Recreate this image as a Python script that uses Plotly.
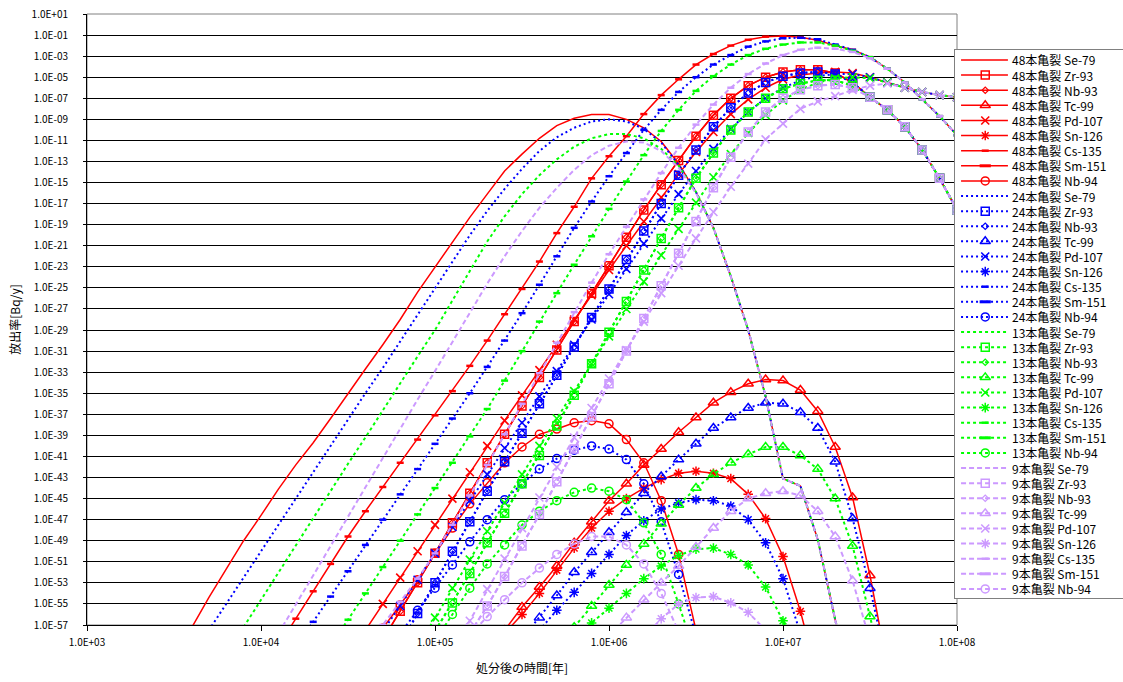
import plotly.graph_objects as go

# ---------------- data (log10 of release rate [Bq/y]) on a 0.1-decade time grid ----------------
LOG_YEARS = [3.6, 3.7, 3.8, 3.9, 4.0, 4.1, 4.2, 4.3, 4.4, 4.5, 4.6, 4.7, 4.8, 4.9,
             5.0, 5.1, 5.2, 5.3, 5.4, 5.5, 5.6, 5.7, 5.8, 5.9, 6.0, 6.1, 6.2, 6.3,
             6.4, 6.5, 6.6, 6.7, 6.8, 6.9, 7.0, 7.1, 7.2, 7.3, 7.4, 7.5, 7.6, 7.7,
             7.8, 7.9, 8.0]

CASES = [48, 24, 13, 9]
CASE_LABELS = {48: "48本亀裂", 24: "24本亀裂", 13: "13本亀裂", 9: "9本亀裂"}
NUCLIDES = ["Se-79", "Zr-93", "Nb-93", "Tc-99", "Pd-107", "Sn-126", "Cs-135", "Sm-151", "Nb-94"]

# each entry: (first log10 year, [log10 release rate, ...])
se79 = {
    48: (3.6, [-57.3, -54.4, -51.7, -49.0, -46.6, -44.1, -41.8, -39.7, -37.4, -35.0, -32.7, -30.4,
               -28.0, -25.4, -23.0, -20.7, -18.3, -16.1, -13.9, -12.3, -10.8, -9.6, -8.9, -8.55,
               -8.55, -9.0, -9.8, -11.1, -13.2, -15.9, -19.3, -23.9, -29.0, -35.3, -43.1, -43.8,
               -48.9, -56.5, -64.0]),
    24: (3.7, [-57.5, -55.0, -52.4, -49.9, -47.4, -44.9, -42.4, -40.0, -37.5, -35.0, -32.6, -30.1,
               -27.5, -25.1, -22.5, -20.0, -17.7, -15.6, -13.7, -12.0, -10.7, -9.8, -9.2, -9.0,
               -9.2, -9.9, -11.2, -13.3, -15.9, -19.3, -23.9, -29.0, -35.3, -43.1, -43.8, -48.9,
               -56.5, -64.0]),
    13: (3.9, [-57.2, -54.6, -52.0, -49.4, -46.9, -44.3, -41.7, -39.2, -36.6, -34.1, -31.5, -29.0,
               -26.2, -23.3, -20.6, -18.2, -16.1, -14.3, -12.8, -11.6, -10.8, -10.4, -10.4, -10.8,
               -11.8, -13.4, -15.9, -19.3, -23.9, -29.0, -35.3, -43.1, -43.8, -48.9, -56.5, -64.0]),
    9: (4.1, [-57.8, -55.1, -52.3, -49.5, -46.7, -43.9, -41.1, -38.4, -35.6, -32.9, -30.1, -27.3,
              -24.6, -22.0, -19.6, -17.4, -15.5, -13.8, -12.4, -11.5, -11.1, -11.2, -12.0, -13.6,
              -16.0, -19.3, -23.9, -29.0, -35.3, -43.1, -43.8, -48.9, -56.5, -64.0]),
}
zr93 = {
    48: (4.7, [-58.4, -55.7, -53.0, -50.2, -47.3, -44.5, -41.6, -38.9, -36.2, -33.5, -30.9, -28.2,
               -25.5, -22.9, -20.2, -17.6, -15.2, -12.9, -10.6, -8.6, -7.0, -5.8, -5.0, -4.5,
               -4.3, -4.3, -4.6, -5.5, -6.9, -8.1, -9.7, -11.9, -14.6, -17.6]),
    24: (4.8, [-58.8, -55.9, -53.0, -50.0, -47.2, -44.3, -41.5, -38.8, -36.0, -33.3, -30.6, -27.8,
               -25.1, -22.3, -19.6, -17.0, -14.3, -11.9, -9.7, -7.9, -6.5, -5.5, -4.9, -4.6,
               -4.5, -4.7, -5.5, -6.9, -8.1, -9.7, -11.9, -14.6, -17.6]),
    13: (5.0, [-57.6, -54.9, -52.1, -49.2, -46.4, -43.6, -40.9, -38.1, -35.2, -32.2, -29.2, -26.3,
               -23.3, -20.3, -17.4, -14.6, -12.2, -10.0, -8.3, -7.0, -6.1, -5.6, -5.3, -5.3,
               -5.8, -6.9, -8.1, -9.7, -11.9, -14.6, -17.6]),
    9: (5.2, [-57.8, -55.2, -52.4, -49.5, -46.5, -43.4, -40.3, -37.2, -34.1, -31.0, -27.9, -24.8,
              -21.7, -18.7, -15.5, -12.6, -10.2, -8.3, -7.0, -6.2, -5.8, -5.7, -6.0, -6.9,
              -8.1, -9.7, -11.9, -14.6, -17.6]),
}
nb93 = {
    48: (4.7, [-58.4, -55.7, -53.0, -50.2, -47.3, -44.5, -41.6, -38.9, -36.2, -33.5, -30.9, -28.2,
               -25.5, -22.9, -20.2, -17.6, -15.2, -12.9, -10.6, -8.6, -7.0, -5.8, -5.0, -4.5,
               -4.3, -4.3, -4.6, -5.5, -6.9, -8.1, -9.7, -11.9, -14.6, -17.6]),
    24: (4.8, [-58.8, -55.9, -53.0, -50.0, -47.2, -44.3, -41.5, -38.8, -36.0, -33.3, -30.6, -27.8,
               -25.1, -22.3, -19.6, -17.0, -14.3, -11.9, -9.7, -7.9, -6.5, -5.5, -4.9, -4.6,
               -4.5, -4.7, -5.5, -6.9, -8.1, -9.7, -11.9, -14.6, -17.6]),
    13: (5.0, [-57.6, -54.9, -52.1, -49.2, -46.4, -43.6, -40.9, -38.1, -35.2, -32.2, -29.2, -26.3,
               -23.3, -20.3, -17.4, -14.6, -12.2, -10.0, -8.3, -7.0, -6.1, -5.6, -5.3, -5.3,
               -5.8, -6.9, -8.1, -9.7, -11.9, -14.6, -17.6]),
    9: (5.2, [-57.8, -55.2, -52.4, -49.5, -46.5, -43.4, -40.3, -37.2, -34.1, -31.0, -27.9, -24.8,
              -21.7, -18.7, -15.5, -12.6, -10.2, -8.3, -7.0, -6.2, -5.8, -5.7, -6.0, -6.9,
              -8.1, -9.7, -11.9, -14.6, -17.6]),
}
tc99 = {
    48: (5.4, [-57.5, -55.3, -53.4, -51.4, -49.2, -47.2, -45.2, -43.6, -41.8, -40.3, -38.7, -37.3,
               -35.9, -34.9, -34.1, -33.7, -33.8, -34.7, -36.7, -40.1, -44.9, -52.3, -61.0]),
    24: (5.5, [-58.3, -56.3, -54.2, -52.0, -50.1, -48.2, -46.3, -44.5, -42.9, -41.3, -39.8, -38.3,
               -37.3, -36.4, -35.9, -36.0, -36.8, -38.3, -41.5, -46.9, -53.5, -61.0]),
    13: (5.8, [-57.2, -55.2, -53.2, -51.3, -49.3, -47.4, -45.6, -44.0, -42.7, -41.6, -40.8, -40.1,
               -40.1, -40.9, -42.2, -45.0, -49.5, -56.2, -63.0]),
    9: (6.0, [-58.0, -56.3, -54.6, -53.0, -51.4, -49.6, -47.8, -46.2, -45.0, -44.5, -44.3, -44.7,
              -46.2, -48.6, -52.8, -58.5]),
}
pd107 = {
    48: (4.6, [-57.5, -55.0, -52.5, -50.0, -47.5, -45.0, -42.5, -40.0, -37.6, -35.2, -32.8, -30.4,
               -28.0, -25.7, -23.3, -21.0, -18.7, -16.4, -14.2, -12.1, -10.2, -8.5, -7.1, -6.0,
               -5.2, -4.8, -4.6, -4.5, -4.6, -5.0, -5.5, -6.0, -6.4, -6.7, -6.9]),
    24: (4.7, [-57.6, -55.2, -52.7, -50.2, -47.7, -45.2, -42.7, -40.2, -37.8, -35.3, -32.9, -30.4,
               -28.0, -25.6, -23.2, -20.8, -18.4, -16.1, -13.9, -11.8, -9.9, -8.3, -7.0, -6.0,
               -5.3, -4.9, -4.7, -4.7, -5.0, -5.5, -6.0, -6.4, -6.7, -6.9]),
    13: (4.9, [-59.1, -56.3, -53.5, -50.8, -48.1, -45.4, -42.7, -40.0, -37.4, -34.8, -32.2, -29.6,
               -27.0, -24.4, -21.9, -19.4, -16.9, -14.5, -12.3, -10.3, -8.6, -7.2, -6.2, -5.5,
               -5.1, -5.0, -5.1, -5.5, -6.0, -6.4, -6.7, -6.9]),
    9: (5.1, [-59.5, -56.6, -53.6, -50.7, -47.8, -44.9, -42.0, -39.2, -36.4, -33.6, -30.9, -28.2,
              -25.5, -22.9, -20.3, -17.8, -15.4, -13.2, -10.9, -9.4, -8.0, -7.3, -6.8, -6.2,
              -5.8, -5.6, -6.0, -6.4, -6.7, -6.9]),
}
sn126 = {
    48: (5.4, [-57.8, -56.0, -54.0, -51.8, -49.7, -47.8, -46.2, -45.0, -44.0, -43.2, -42.6, -42.4,
               -42.6, -43.1, -44.6, -46.9, -50.5, -55.7, -62.0]),
    24: (5.6, [-57.5, -55.6, -53.9, -52.1, -50.3, -48.5, -47.1, -46.0, -45.4, -45.1, -45.2, -45.7,
               -47.0, -49.2, -52.6, -57.8]),
    13: (5.8, [-58.2, -56.8, -55.4, -54.0, -52.6, -51.4, -50.4, -49.8, -49.7, -50.3, -51.3, -53.4,
               -56.6, -61.0]),
    9: (6.2, [-58.2, -56.4, -55.0, -54.4, -54.3, -54.9, -55.8, -57.5, -60.0]),
}
cs135 = {
    48: (4.1, [-59.0, -56.4, -53.8, -51.2, -48.6, -46.2, -43.9, -41.6, -39.4, -37.1, -34.8, -32.4,
               -30.0, -27.5, -25.1, -22.5, -19.8, -17.3, -14.6, -12.5, -10.6, -8.5, -6.7, -5.2,
               -3.8, -2.8, -2.0, -1.45, -1.15, -1.1, -1.2, -1.5, -2.0, -2.4, -3.1, -4.2,
               -5.5, -7.1, -8.7, -10.5]),
    24: (4.2, [-59.1, -56.7, -54.3, -51.9, -49.4, -47.0, -44.6, -42.2, -39.8, -37.4, -35.0, -32.5,
               -30.0, -27.4, -24.7, -22.0, -19.3, -16.8, -14.4, -12.2, -10.0, -8.1, -6.4, -5.0,
               -3.8, -2.9, -2.1, -1.6, -1.3, -1.25, -1.4, -1.9, -2.4, -3.1, -4.2, -5.5,
               -7.1, -8.7, -10.5]),
    13: (4.4, [-59.0, -56.5, -54.0, -51.5, -49.0, -46.5, -44.0, -41.6, -39.1, -36.5, -33.8, -31.0,
               -28.2, -25.5, -22.8, -20.1, -17.5, -14.9, -12.4, -10.1, -8.1, -6.3, -4.9, -3.8,
               -2.9, -2.3, -1.9, -1.7, -1.7, -2.0, -2.5, -3.1, -4.2, -5.5, -7.1, -8.7, -10.5]),
    9: (4.6, [-59.4, -57.0, -54.8, -52.6, -50.2, -47.5, -44.7, -41.8, -38.9, -36.0, -33.1, -30.2,
              -27.3, -24.5, -21.8, -19.2, -16.6, -14.1, -11.7, -9.5, -7.6, -6.0, -4.7, -3.7,
              -2.9, -2.4, -2.2, -2.3, -2.6, -3.2, -4.2, -5.5, -7.1, -8.7, -10.5]),
}
sm151 = {48: (3.6, []), 24: (3.6, []), 13: (3.6, []), 9: (3.6, [])}   # below the plotted range
nb94 = {
    48: (4.7, [-57.3, -55.1, -52.7, -50.2, -47.8, -45.5, -43.5, -41.6, -40.1, -38.9, -38.4, -37.8,
               -37.6, -37.9, -39.4, -41.6, -45.2, -50.3, -57.5]),
    24: (4.8, [-57.8, -55.6, -53.5, -51.3, -49.1, -47.0, -45.1, -43.6, -42.2, -41.2, -40.4, -40.0,
               -40.3, -41.3, -43.6, -47.2, -52.2, -58.0]),
    13: (5.0, [-58.5, -56.0, -53.5, -51.2, -49.4, -47.5, -46.2, -45.2, -44.4, -44.0, -44.3, -45.1,
               -47.3, -50.3, -55.0, -60.0]),
    9: (5.2, [-58.0, -56.2, -54.6, -53.0, -51.6, -50.3, -49.3, -48.6, -48.6, -49.4, -51.2, -54.0,
              -57.6]),
}
SERIES = {"Se-79": se79, "Zr-93": zr93, "Nb-93": nb93, "Tc-99": tc99, "Pd-107": pd107,
          "Sn-126": sn126, "Cs-135": cs135, "Sm-151": sm151, "Nb-94": nb94}

X_TICK_EXP = [3, 4, 5, 6, 7, 8]
Y_TICK_EXP = list(range(1, -58, -2))

# ---------------- styles ----------------
COLORS = {48: "#FF0000", 24: "#0000FF", 13: "#00FF00", 9: "#CC99FF"}
DASHES = {48: "solid", 24: "2px,3px", 13: "3px,3px", 9: "5px,3px"}
SYMBOLS = {"Se-79": None, "Zr-93": ("square-open", 8, 1.5), "Nb-93": ("diamond-open", 5, 1.2),
           "Tc-99": ("triangle-up-open", 9, 1.5), "Pd-107": ("x-thin-open", 8, 1.6),
           "Sn-126": ("asterisk-open", 8, 1.5), "Cs-135": ("line-ew-open", 5, 2.5),
           "Sm-151": ("line-ew-open", 8, 3), "Nb-94": ("circle-open", 8, 1.5)}

FONT = "Noto Sans CJK JP, Liberation Sans, sans-serif"


def fmt_exp(e):
    return "1.0E%s%02d" % ("+" if e >= 0 else "-", abs(e))


fig = go.Figure()

# main curves
for case in CASES:
    for nuc in NUCLIDES:
        start, vals = SERIES[nuc][case]
        i0 = LOG_YEARS.index(start)
        xs = [10 ** LOG_YEARS[i0 + k] for k in range(len(vals))]
        ys = [10 ** v for v in vals]
        sym = SYMBOLS[nuc]
        kw = dict(x=xs, y=ys, xaxis="x", yaxis="y", showlegend=False,
                  name=f"{CASE_LABELS[case]} {nuc}",
                  line=dict(color=COLORS[case], width=1.5 if case == 48 else 2, dash=DASHES[case]))
        if sym is None:
            kw["mode"] = "lines"
        else:
            kw["mode"] = "lines+markers"
            kw["marker"] = dict(symbol=sym[0], size=sym[1], color=COLORS[case],
                                line=dict(color=COLORS[case], width=sym[2]))
        fig.add_trace(go.Scatter(**kw))

# legend drawn in its own small axis box
annotations = []
row = 0
for case in CASES:
    for nuc in NUCLIDES:
        sym = SYMBOLS[nuc]
        fig.add_trace(go.Scatter(x=[0.036, 0.315], y=[row, row], mode="lines", xaxis="x2", yaxis="y2",
                                 showlegend=False, hoverinfo="skip",
                                 line=dict(color=COLORS[case], width=1.5 if case == 48 else 2,
                                           dash=DASHES[case])))
        if sym is not None:
            fig.add_trace(go.Scatter(x=[0.18], y=[row], mode="markers", xaxis="x2", yaxis="y2",
                                     showlegend=False, hoverinfo="skip",
                                     marker=dict(symbol=sym[0], size=sym[1], color=COLORS[case],
                                                 line=dict(color=COLORS[case], width=sym[2]))))
        annotations.append(dict(x=0.33, y=row, xref="x2", yref="y2", xanchor="left", yanchor="middle",
                                text=f"{CASE_LABELS[case]} {nuc}", showarrow=False,
                                font=dict(family=FONT, size=12, color="#000000")))
        row += 1

W, H = 1123, 682
L_M, R_M, T_M, B_M = 87, 0, 14, 57
pw = W - L_M - R_M
ph = H - T_M - B_M

fig.update_layout(
    width=W, height=H,
    margin=dict(l=L_M, r=R_M, t=T_M, b=B_M, autoexpand=False),
    paper_bgcolor="white", plot_bgcolor="white",
    font=dict(family=FONT, size=10, color="#000000"),
    showlegend=False,
    annotations=annotations,
    xaxis=dict(type="log", range=[3, 8], domain=[0, (957 - L_M) / pw], automargin=False,
               tickvals=[10 ** e for e in X_TICK_EXP], ticktext=[fmt_exp(e) for e in X_TICK_EXP],
               showgrid=False, zeroline=False, showline=True, linecolor="#000000", linewidth=1,
               ticks="outside", ticklen=5, tickcolor="#000000", tickfont=dict(size=10),
               ticklabelstandoff=3,
               title=dict(text="処分後の時間[年]", font=dict(size=12), standoff=16),
               anchor="y"),
    yaxis=dict(type="log", range=[-57, 1], domain=[0, 1], automargin=False,
               tickvals=[10 ** e for e in Y_TICK_EXP], ticktext=[fmt_exp(e) for e in Y_TICK_EXP],
               showgrid=True, gridcolor="#000000", gridwidth=1, zeroline=False,
               showline=True, linecolor="#000000", linewidth=1,
               ticks="outside", ticklen=3, tickcolor="#000000", tickfont=dict(size=10),
               ticklabelstandoff=13,
               title=dict(text="放出率[Bq/y]", font=dict(size=12), standoff=8),
               anchor="x"),
    xaxis2=dict(domain=[(955 - L_M) / pw, 1], range=[0, 1], anchor="y2", automargin=False,
                showgrid=False, zeroline=False, showticklabels=False, ticks="",
                showline=True, mirror=True, linecolor="#808080", linewidth=1, fixedrange=True),
    yaxis2=dict(domain=[(H - B_M - 598) / ph, (H - B_M - 50) / ph], automargin=False,
                range=[35.6, -0.662], anchor="x2",
                showgrid=False, zeroline=False, showticklabels=False, ticks="",
                showline=True, mirror=True, linecolor="#808080", linewidth=1, fixedrange=True),
    shapes=[dict(type="rect", xref="x domain", yref="y domain", x0=0, x1=1, y0=0, y1=1,
                 line=dict(color="#808080", width=1), layer="below")],
)

fig.write_html("out.html")
